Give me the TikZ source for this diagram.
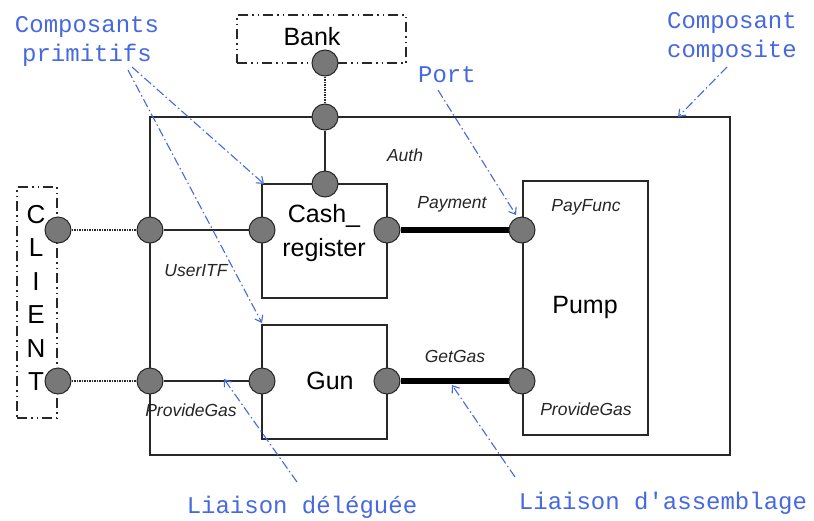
\documentclass[tikz,border=0pt]{standalone}
\usepackage{fontspec}
\setmainfont{Liberation Sans}
\newfontfamily\annfont{Liberation Mono}
\usetikzlibrary{arrows.meta}
\definecolor{portgray}{RGB}{120,120,120}
\definecolor{annblue}{RGB}{70,105,225}
\definecolor{linegray}{RGB}{40,40,40}
\pgfdeclarelayer{bg}
\pgfsetlayers{bg,main}
\begin{document}
\begin{tikzpicture}[x=1pt,y=-1pt,
  port/.style={circle, draw=linegray, fill=portgray, line width=1pt, minimum size=26pt, inner sep=0pt},
  box/.style={draw=linegray, line width=1.3pt, inner sep=0pt},
  dashbox/.style={draw=linegray, line width=1.2pt, inner sep=0pt, dash pattern=on 10pt off 4pt on 1.5pt off 4pt on 1.5pt off 4pt},
  bigtxt/.style={font=\fontsize{25}{27}\selectfont, inner sep=0pt},
  lbl/.style={font=\fontsize{17.5}{19}\selectfont\itshape, text=black!85, inner sep=0pt},
  ann/.style={font=\fontsize{24}{29}\selectfont\annfont, text=annblue, align=center, inner sep=0pt},
  annline/.style={draw=annblue, line width=1.1pt, dash pattern=on 9pt off 3pt on 1.5pt off 3pt, -{Straight Barb[length=6pt,width=9pt]}},
  deleg/.style={draw=linegray, line width=1.3pt},
  dotlink/.style={draw=linegray, line width=2pt, dash pattern=on 1.5pt off 1pt},
  assem/.style={draw=black, line width=6pt}
]
\useasboundingbox (0,0) rectangle (814,520);
\begin{pgfonlayer}{bg}
\fill[white] (0,0) rectangle (814,520);
\end{pgfonlayer}

% boxes
\node[box, minimum width=580pt, minimum height=338pt] (comp) at (440,286) {};
\node[dashbox, minimum width=169pt, minimum height=48pt] (bank) at (321.5,39) {};
\node[bigtxt] (banktxt) at (312,37) {Bank};
\node[dashbox, minimum width=40pt, minimum height=231pt] (client) at (37,302.5) {};
\node[bigtxt, align=center, font=\fontsize{26}{33.5}\selectfont] (clienttxt) at (36,298) {C\\L\\I\\E\\N\\T};
\node[box, minimum width=125pt, minimum height=114pt] (cash) at (324.5,241) {};
\node[bigtxt, align=center, font=\fontsize{25}{34}\selectfont] (cashtxt) at (324,233) {Cash\_\\register};
\node[box, minimum width=125pt, minimum height=114pt] (gun) at (324.5,382) {};
\node[bigtxt] (guntxt) at (330,381) {Gun};
\node[box, minimum width=125pt, minimum height=254pt] (pump) at (585.5,308) {};
\node[bigtxt] (pumptxt) at (585,307) {Pump};

% ports
\node[port] (bankP) at (325,63) {};
\node[port] (compTop) at (325,117) {};
\node[port] (cashTop) at (325,184) {};
\node[port] (cashL) at (262,230) {};
\node[port] (cashR) at (387,230) {};
\node[port] (pumpPay) at (522,230) {};
\node[port] (compL1) at (150,230) {};
\node[port] (clientP1) at (58,230) {};
\node[port] (compL2) at (150,381) {};
\node[port] (clientP2) at (58,381) {};
\node[port] (gunL) at (262,381) {};
\node[port] (gunR) at (387,381) {};
\node[port] (pumpGas) at (522,381) {};

% connectors
\begin{pgfonlayer}{bg}
\draw[dotlink] (bankP) -- (compTop);
\draw[deleg] (compTop) -- (cashTop);
\draw[dotlink] (clientP1) -- (compL1);
\draw[deleg] (compL1) -- (cashL);
\draw[dotlink] (clientP2) -- (compL2);
\draw[deleg] (compL2) -- (gunL);
\draw[assem] (cashR) -- (pumpPay);
\draw[assem] (gunR) -- (pumpGas);
\end{pgfonlayer}

% labels
\node[lbl] (lauth) at (405,155) {Auth};
\node[lbl] (lpay) at (452,204) {Payment};
\node[lbl] (luser) at (196,271) {UserITF};
\node[lbl] (lget) at (455,356) {GetGas};
\node[lbl] (lprov) at (191,410) {ProvideGas};
\node[lbl] (lpayf) at (586,207) {PayFunc};
\node[lbl] (lprov2) at (586,409) {ProvideGas};

% annotations
\node[ann] (aprim) at (87,41) {Composants\\primitifs};
\node[ann] (acomp) at (732,37) {Composant\\composite};
\node[ann] (aport) at (447,75) {Port};
\node[ann] (adeleg) at (302,507) {Liaison déléguée};
\node[ann] (aassem) at (663,503) {Liaison d'assemblage};

\coordinate (s1) at (132,67);
\coordinate (s2) at (128,70);
\coordinate (e1) at (264,184);
\coordinate (e2) at (262,323);
\coordinate (sp) at (438,90);
\coordinate (ep) at (516,215);
\coordinate (sc) at (727,67);
\coordinate (ec) at (678,117);
\coordinate (sd) at (297,482);
\coordinate (ed) at (224,379);
\coordinate (sa) at (515,477);
\coordinate (ea) at (452,385);

\draw[annline] (s1) -- (e1);
\draw[annline] (s2) -- (e2);
\draw[annline] (sp) -- (ep);
\draw[annline] (sc) -- (ec);
\draw[annline] (sd) -- (ed);
\draw[annline] (sa) -- (ea);
\end{tikzpicture}
\end{document}
